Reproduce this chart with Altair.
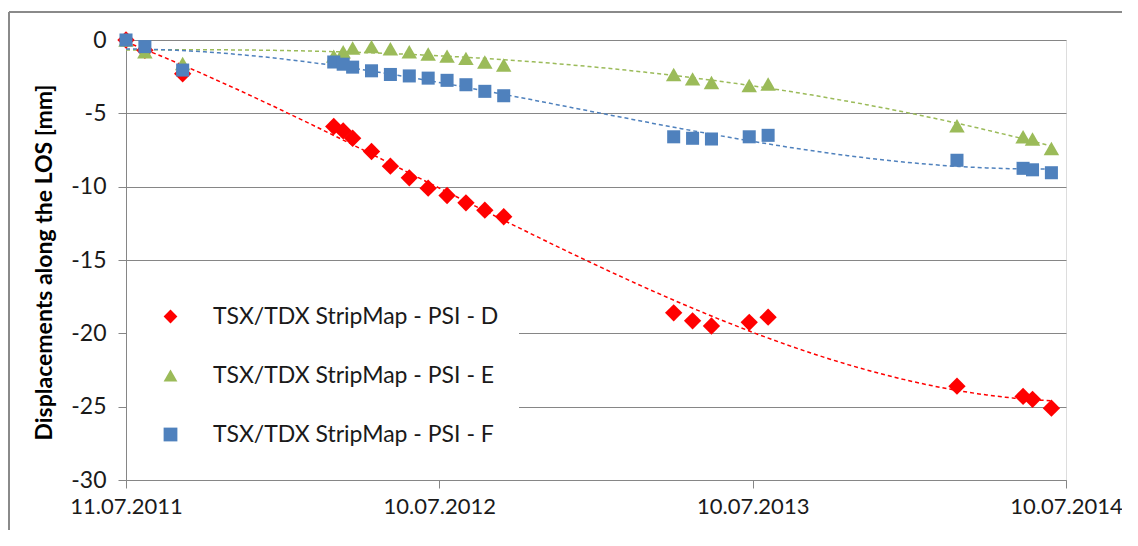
import altair as alt
import pandas as pd

# acquisition dates (TSX/TDX, 11-day cycle)
dates = ["2011-07-11", "2011-08-02", "2011-09-15", "2012-03-09", "2012-03-20",
         "2012-03-31", "2012-04-22", "2012-05-14", "2012-06-05", "2012-06-27",
         "2012-07-19", "2012-08-10", "2012-09-01", "2012-09-23", "2013-04-09",
         "2013-05-01", "2013-05-23", "2013-07-06", "2013-07-28", "2014-03-05",
         "2014-05-21", "2014-06-01", "2014-06-23"]

psi_d = [0, -0.7, -2.3, -5.9, -6.2, -6.7, -7.6, -8.6, -9.4, -10.1, -10.6, -11.1,
         -11.6, -12.05, -18.6, -19.15, -19.5, -19.25, -18.9, -23.6, -24.3, -24.5, -25.1]
psi_e = [0, -0.8, -1.6, -1.1, -0.8, -0.55, -0.45, -0.6, -0.8, -0.95, -1.1, -1.25,
         -1.5, -1.7, -2.35, -2.65, -2.9, -3.1, -3.0, -5.85, -6.6, -6.75, -7.4]
psi_f = [0, -0.45, -2.05, -1.5, -1.65, -1.85, -2.1, -2.35, -2.45, -2.6, -2.75, -3.05,
         -3.5, -3.8, -6.6, -6.7, -6.75, -6.6, -6.5, -8.2, -8.75, -8.85, -9.05]

series_names = ["TSX/TDX StripMap - PSI - D", "TSX/TDX StripMap - PSI - E",
                "TSX/TDX StripMap - PSI - F"]
series_colors = ["#FF0000", "#9BBB59", "#4F81BD"]
series_shapes = ["diamond", "triangle-up", "square"]
marker_sizes = [300, 240, 170]

tick_dates = ["2011-07-11", "2012-07-10", "2013-07-10", "2014-07-10"]
tick_labels = ["11.07.2011", "10.07.2012", "10.07.2013", "10.07.2014"]
y_ticks = [0, -5, -10, -15, -20, -25, -30]

FONT = "Lato"

t0 = pd.Timestamp(dates[0])
day = [(pd.Timestamp(d) - t0).days for d in dates]
tick_days = [(pd.Timestamp(d) - t0).days for d in tick_dates]

rows = []
for name, vals, ms in zip(series_names, [psi_d, psi_e, psi_f], marker_sizes):
    for d, v in zip(day, vals):
        rows.append({"series": name, "day": d, "value": v, "msize": ms})
df = pd.DataFrame(rows)

label_expr = "[" + ",".join("'%s'" % s for s in tick_labels) + "][indexof([" + \
    ",".join(str(t) for t in tick_days) + "], datum.value)]"

x_enc = alt.X("day:Q", scale=alt.Scale(domain=[tick_days[0], tick_days[-1]], nice=False, zero=False),
              axis=alt.Axis(values=tick_days, labelExpr=label_expr, title=None, grid=False,
                            tickSize=8, labelPadding=8, labelFontSize=22, labelFont=FONT,
                            labelColor="#1a1a1a", domainColor="#868686", tickColor="#868686",
                            labelFlush=False))
y_enc = alt.Y("value:Q", scale=alt.Scale(domain=[-30, 0], nice=False),
              axis=alt.Axis(values=y_ticks, labelExpr="datum.value + ''",
                            title="Displacements along the LOS [mm]", titleFont=FONT,
                            titleFontSize=23, titleFontWeight="bold", titleColor="#000000",
                            titleX=-70, titleY=222, titleAlign="center", titleBaseline="bottom",
                            grid=True, gridColor="#868686", gridWidth=1,
                            tickSize=8, labelPadding=12, labelFontSize=23, labelFont=FONT,
                            labelColor="#1a1a1a", domainColor="#868686", tickColor="#868686"))

base = alt.Chart(df)

trends = []
for name, col in zip(series_names, series_colors):
    trends.append(
        base.transform_filter(alt.datum.series == name)
        .transform_regression("day", "value", method="poly", order=3)
        .mark_line(strokeDash=[4, 3], strokeWidth=1.5, color=col)
        .encode(x=x_enc, y=y_enc)
    )

points = base.mark_point(filled=True, opacity=1).encode(
    x=x_enc, y=y_enc,
    color=alt.Color("series:N", scale=alt.Scale(domain=series_names, range=series_colors),
                    legend=alt.Legend(title=None, orient="none", legendX=1, legendY=245,
                                      padding=20, fillColor="#ffffff", symbolOffset=12,
                                      symbolSize=190, labelFontSize=23, labelFont=FONT,
                                      labelColor="#1a1a1a", labelLimit=500, labelOffset=31,
                                      rowPadding=35)),
    shape=alt.Shape("series:N", scale=alt.Scale(domain=series_names, range=series_shapes)),
    size=alt.Size("msize:Q", scale=None),
)

frame = pd.DataFrame({"k": [0]})
border_v = alt.Chart(frame).mark_rule(color="#8a8a8a", strokeWidth=2).encode(
    x=alt.value(-117), y=alt.value(-28), y2=alt.value(500))
border_h = alt.Chart(frame).mark_rule(color="#8a8a8a", strokeWidth=2).encode(
    x=alt.value(-117), x2=alt.value(1010), y=alt.value(-28))

chart = alt.layer(border_v, border_h, *trends, points).properties(
    width=940, height=440,
    padding={"left": 118, "top": 32, "right": 56, "bottom": 50},
    autosize=alt.AutoSizeParams(type="none"),
).configure_view(stroke=None).configure(background="#ffffff")

chart.save("out.html", embed_options={"renderer": "svg", "actions": False})
